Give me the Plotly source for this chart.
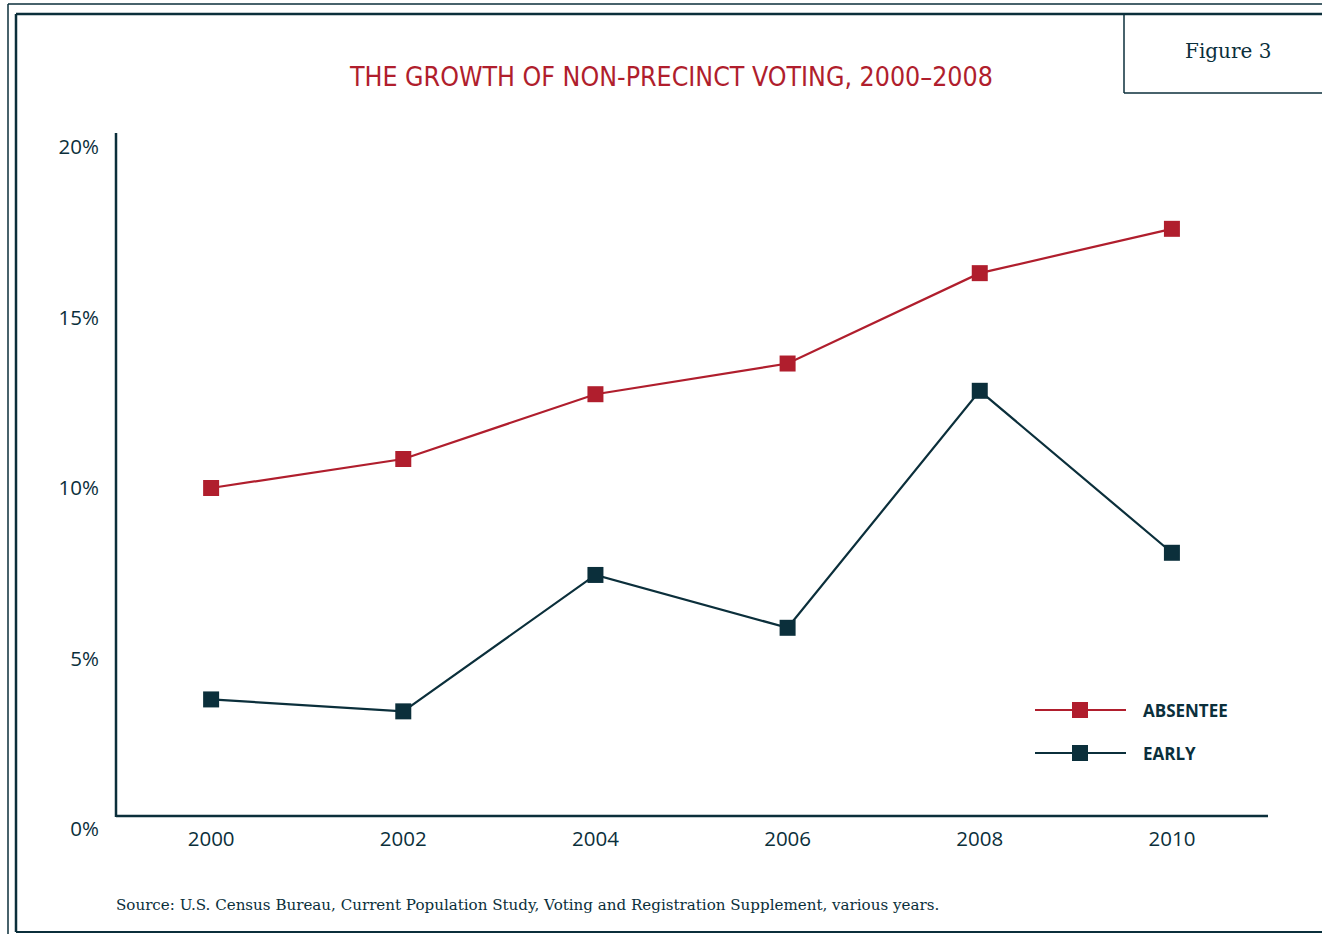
import plotly.graph_objects as go

years = [2000, 2002, 2004, 2006, 2008, 2010]
absentee = [10.0, 10.85, 12.75, 13.65, 16.3, 17.6]
early = [3.8, 3.45, 7.45, 5.9, 12.85, 8.1]
y_ticks = [0, 5, 10, 15, 20]
y_tick_labels = ["0%", "5%", "10%", "15%", "20%"]
series_names = ["ABSENTEE", "EARLY"]

RED = "#B01E2D"
DARK = "#0B2F3B"
W, H = 1322, 934

fig = go.Figure()
fig.add_trace(go.Scatter(x=years, y=absentee, mode="lines+markers", name=series_names[0],
                         line=dict(color=RED, width=2.2),
                         marker=dict(symbol="square", size=16, color=RED)))
fig.add_trace(go.Scatter(x=years, y=early, mode="lines+markers", name=series_names[1],
                         line=dict(color=DARK, width=2.2),
                         marker=dict(symbol="square", size=16, color=DARK)))


def px(x):
    return (x - 116) / (1268 - 116)


def py(y):
    return (829 - y) / (829 - 133)


shapes = [
    dict(type="line", xref="paper", yref="paper", x0=px(8), x1=px(1330), y0=py(4), y1=py(4),
         line=dict(color=DARK, width=1.5)),
    dict(type="line", xref="paper", yref="paper", x0=px(8), x1=px(8), y0=py(4), y1=py(940),
         line=dict(color=DARK, width=1.5)),
    dict(type="line", xref="paper", yref="paper", x0=px(16), x1=px(1330), y0=py(14), y1=py(14),
         line=dict(color=DARK, width=2.5)),
    dict(type="line", xref="paper", yref="paper", x0=px(16), x1=px(16), y0=py(14), y1=py(932),
         line=dict(color=DARK, width=2.5)),
    dict(type="line", xref="paper", yref="paper", x0=px(16), x1=px(1330), y0=py(932), y1=py(932),
         line=dict(color=DARK, width=2)),
    # Figure 3 box
    dict(type="line", xref="paper", yref="paper", x0=px(1124), x1=px(1124), y0=py(14), y1=py(93),
         line=dict(color=DARK, width=1.5)),
    dict(type="line", xref="paper", yref="paper", x0=px(1124), x1=px(1330), y0=py(93), y1=py(93),
         line=dict(color=DARK, width=1.5)),
    # axes
    dict(type="line", xref="paper", yref="paper", x0=0, x1=0, y0=py(817), y1=py(133),
         line=dict(color=DARK, width=2.5)),
    dict(type="line", xref="paper", yref="paper", x0=0, x1=1, y0=py(816), y1=py(816),
         line=dict(color=DARK, width=2.5)),
]

annotations = [
    dict(text="THE GROWTH OF NON-PRECINCT VOTING, 2000–2008", xref="paper", yref="paper",
         x=px(671), y=py(76), xanchor="center", yanchor="middle", showarrow=False,
         font=dict(family="DejaVu Sans Condensed, Liberation Sans Narrow, Roboto Condensed, sans-serif",
                   size=26.5, color=RED)),
    dict(text="Figure 3", xref="paper", yref="paper", x=px(1228), y=py(51),
         xanchor="center", yanchor="middle", showarrow=False,
         font=dict(family="DejaVu Serif", size=20, color=DARK)),
    dict(text="Source: U.S. Census Bureau, Current Population Study, Voting and Registration Supplement, various years.",
         xref="paper", yref="paper", x=px(114), y=py(905), xanchor="left", yanchor="middle",
         showarrow=False, font=dict(family="DejaVu Serif", size=15.1, color=DARK)),
]

# custom legend
legend_rows = [(710, RED), (753, DARK)]
for (ly, col), name in zip(legend_rows, series_names):
    shapes.append(dict(type="line", xref="paper", yref="paper", x0=px(1035), x1=px(1126),
                       y0=py(ly), y1=py(ly), line=dict(color=col, width=2.2)))
    shapes.append(dict(type="rect", xref="paper", yref="paper", x0=px(1072), x1=px(1088),
                       y0=py(ly + 8), y1=py(ly - 8), line=dict(width=0), fillcolor=col))
    annotations.append(dict(text="<b>" + name + "</b>", xref="paper", yref="paper", x=px(1141),
                            y=py(ly), xanchor="left", yanchor="middle", showarrow=False,
                            font=dict(family="Open Sans", size=17, color=DARK)))

fig.update_layout(
    width=W, height=H,
    margin=dict(l=116, r=W - 1268, t=133, b=H - 829),
    paper_bgcolor="white", plot_bgcolor="white",
    showlegend=False,
    shapes=shapes, annotations=annotations,
    xaxis=dict(range=[1999.01, 2011.0], tickvals=years, ticktext=[str(y) for y in years],
               showgrid=False, zeroline=False, showline=False, ticks="",
               tickfont=dict(family="Open Sans", size=20.5, color=DARK), ticklabelstandoff=-5),
    yaxis=dict(range=[0, 20.41], tickvals=y_ticks, ticktext=y_tick_labels,
               showgrid=False, zeroline=False, showline=False, ticks="",
               tickfont=dict(family="Open Sans", size=20.5, color=DARK), ticklabelstandoff=16),
)

fig.write_html("out.html", config={"displayModeBar": False},
               post_script="document.body.style.margin='0px';")
